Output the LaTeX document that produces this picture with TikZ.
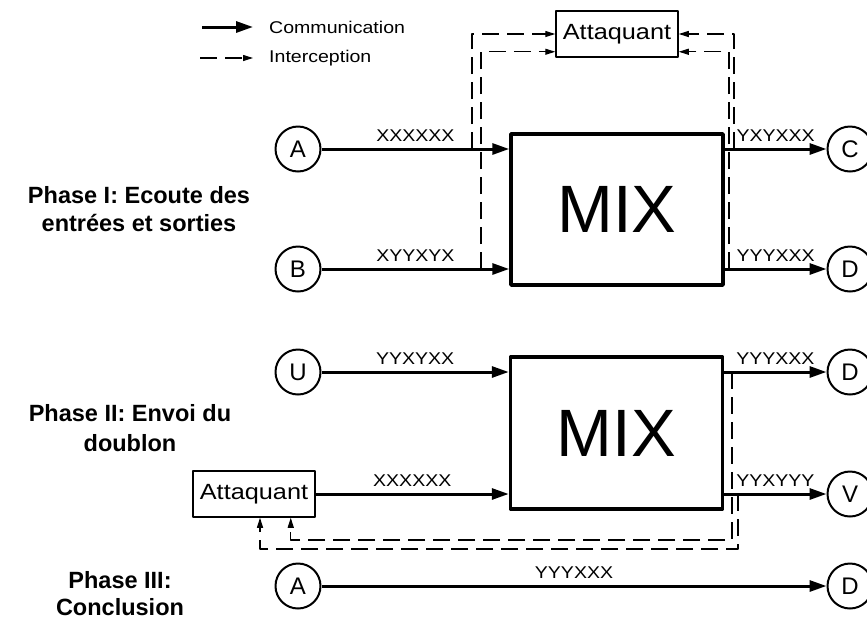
\documentclass[tikz,border=0pt]{standalone}
\usepackage{fontspec}
\setmainfont{Liberation Sans}
\newfontfamily\widefont[FakeStretch=1.15]{Liberation Sans}
\usetikzlibrary{arrows.meta}
\begin{document}
\begin{tikzpicture}[x=1pt, y=-1pt, line join=round,
	station/.style={circle, draw, line width=2pt, minimum size=45pt, inner sep=0pt, font=\fontsize{24}{24}\selectfont},
	mixbox/.style={draw, line width=3.5pt, minimum width=212pt, minimum height=151pt, font=\fontsize{67}{67}\selectfont},
	attbox/.style={draw, line width=1.5pt, minimum width=122pt, minimum height=46pt, inner sep=0pt, font=\widefont\fontsize{22}{22}\selectfont},
	msg/.style={line width=3pt, -{Triangle[length=17pt, width=11pt]}},
	spy/.style={line width=1.1pt, dash pattern=on 17pt off 8pt, -{Triangle[length=10pt, width=6pt]}},
	lab/.style={inner sep=0pt, font=\widefont\fontsize{17}{17}\selectfont},
	phase/.style={align=center, font=\bfseries\fontsize{23.5}{28}\selectfont}]
	\useasboundingbox (0,0) rectangle (867,622);
	% legend
	\coordinate (lgcom) at (202,27);
	\coordinate (lgcomend) at (253,27);
	\coordinate (lgint) at (200,58);
	\coordinate (lgintend) at (253,58);
	\node[lab, anchor=base west] (com) at (269,33) {Communication};
	\node[lab, anchor=base west] (int) at (269,62) {Interception};
	\draw[msg] (lgcom) -- (lgcomend);
	\draw[spy] (lgint) -- (lgintend);
	% phase I
	\node[phase] (ph1) at (139,209) {Phase I: Ecoute des\\entrées et sorties};
	\node[station] (a1) at (298,149) {A};
	\node[station] (b1) at (298,269) {B};
	\node[station] (c1) at (850,149) {C};
	\node[station] (d1) at (850,269) {D};
	\node[mixbox] (mix1) at (617,209.5) {MIX};
	\node[attbox] (att1) at (617,34) {Attaquant};
	\draw[msg] (a1) -- (a1 -| mix1.west) node[lab, midway, above=6pt] {XXXXXX};
	\draw[msg] (b1) -- (b1 -| mix1.west) node[lab, midway, above=6pt] {XYYXYX};
	\draw[msg] (mix1.east |- c1) -- (c1) node[lab, midway, above=6pt] {YXYXXX};
	\draw[msg] (mix1.east |- d1) -- (d1) node[lab, midway, above=6pt] {YYYXXX};
	\coordinate (tapA) at (472,149);
	\coordinate (tapB) at (481,269);
	\coordinate (tapC) at (734,149);
	\coordinate (tapD) at (729,269);
	\draw[spy] (tapA) |- (att1.west);
	\draw[spy] (tapB) |- ([yshift=6pt]att1.south west);
	\draw[spy] (tapC) |- (att1.east);
	\draw[spy] (tapD) |- ([yshift=6pt]att1.south east);
	% phase II
	\node[phase, font=\bfseries\fontsize{23.5}{30}\selectfont] (ph2) at (130,428) {Phase II: Envoi du\\doublon};
	\node[station] (u2) at (298,372) {U};
	\node[station] (d2) at (850,372) {D};
	\node[station] (v2) at (850,494) {V};
	\node[mixbox, minimum height=152pt] (mix2) at (616.5,433) {MIX};
	\node[attbox] (att2) at (254,494) {Attaquant};
	\draw[msg] (u2) -- (u2 -| mix2.west) node[lab, midway, above=6pt] {YYXYXX};
	\draw[msg] (att2.east) -- (att2.east -| mix2.west) node[lab, midway, above=6pt] {XXXXXX};
	\draw[msg] (mix2.east |- d2) -- (d2) node[lab, midway, above=6pt] {YYYXXX};
	\draw[msg] (mix2.east |- v2) -- (v2) node[lab, midway, above=6pt] {YYXYYY};
	\coordinate (tapD2) at (732,372);
	\coordinate (turnD2) at (732,540);
	\coordinate (tapV2) at (738,494);
	\coordinate (turnV2) at (738,549);
	\draw[spy] (tapD2) -- (turnD2) -| ([xshift=-25pt]att2.south east);
	\draw[spy] (tapV2) -- (turnV2) -| ([xshift=6pt]att2.south);
	% phase III
	\node[phase, font=\bfseries\fontsize{23.5}{27}\selectfont] (ph3) at (120,594) {Phase III:\\Conclusion};
	\node[station] (a3) at (298,586) {A};
	\node[station] (d3) at (850,586) {D};
	\draw[msg] (a3) -- (d3) node[lab, midway, above=6pt] {YYYXXX};
\end{tikzpicture}
\end{document}
